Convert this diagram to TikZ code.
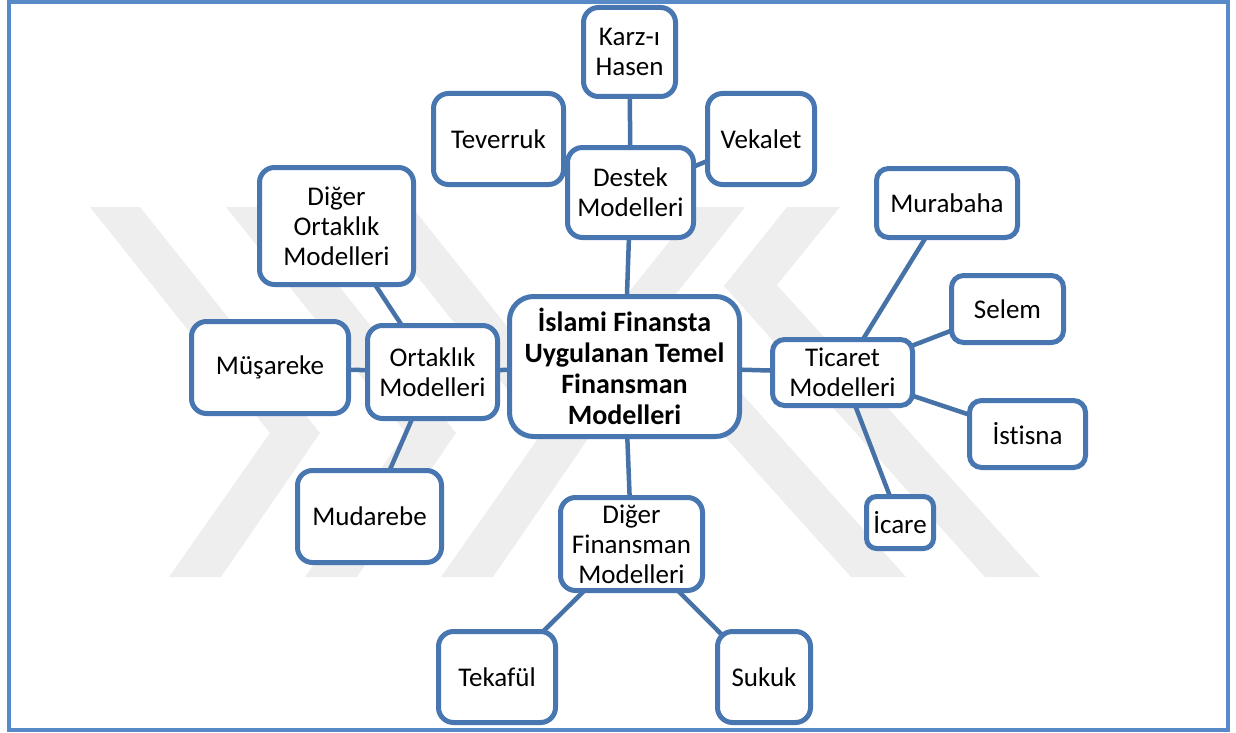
\documentclass[tikz,border=0pt]{standalone}
\usepackage{fontspec}
\setmainfont{Carlito}[Ligatures=NoCommon]
\definecolor{boxblue}{RGB}{72,118,176}
\definecolor{linkblue}{RGB}{70,114,168}
\definecolor{frameblue}{RGB}{88,138,200}
\definecolor{wmgray}{RGB}{238,238,238}
\pgfdeclarelayer{emblem}
\pgfdeclarelayer{links}
\pgfsetlayers{emblem,links,main}
\begin{document}
\begin{tikzpicture}[x=1pt,y=-1pt,
  box/.style={draw=boxblue, line width=5pt, fill=white, rounded corners=#1,
    inner sep=0pt, align=center, font=\fontsize{27}{30}\selectfont},
  box/.default=15pt,
  mainbox/.style={box=24pt, font=\bfseries\fontsize{28}{31}\selectfont},
  link/.style={draw=linkblue, line width=4.5pt},
  wm/.style={fill=wmgray, draw=none}]
% page area
\useasboundingbox (0,0) rectangle (1236,733);

% nodes
\node[mainbox, minimum width=230pt, minimum height=140pt] (main) at (624.5,366.5)
  {İslami Finansta\\Uygulanan Temel\\Finansman\\Modelleri};

\node[box, minimum width=126pt, minimum height=90pt] (destek) at (630.5,192.5) {Destek\\Modelleri};
\node[box, minimum width=92pt, minimum height=89pt] (karz) at (629.5,52) {Karz-ı\\Hasen};
\node[box, minimum width=130pt, minimum height=91pt] (tev) at (498.5,139) {Teverruk};
\node[box, minimum width=107pt, minimum height=91pt] (vek) at (761,139) {Vekalet};

\node[box, minimum width=130pt, minimum height=93pt] (ortak) at (432.5,372) {Ortaklık\\Modelleri};
\node[box, minimum width=154pt, minimum height=117pt] (digort) at (336.5,226) {Diğer\\Ortaklık\\Modelleri};
\node[box, minimum width=157pt, minimum height=92pt] (musa) at (270,367.5) {Müşareke};
\node[box, minimum width=144pt, minimum height=92pt] (muda) at (369.5,516.5) {Mudarebe};

\node[box, minimum width=142pt, minimum height=93pt] (digfin) at (631.5,544) {Diğer\\Finansman\\Modelleri};
\node[box, minimum width=117pt, minimum height=91pt] (tek) at (497,677) {Tekafül};
\node[box, minimum width=93pt, minimum height=91pt] (suk) at (764,677) {Sukuk};

\node[box=12pt, minimum width=140pt, minimum height=66pt] (tic) at (842.5,372.5) {Ticaret\\Modelleri};
\node[box=12pt, minimum width=141pt, minimum height=69pt] (mura) at (947,203) {Murabaha};
\node[box=12pt, minimum width=112pt, minimum height=67pt] (sel) at (1007.5,309) {Selem};
\node[box=12pt, minimum width=116pt, minimum height=67pt] (ist) at (1027.5,434) {İstisna};
\node[box=10pt, minimum width=67pt, minimum height=52pt] (ica) at (900,522.5) {İcare};

% connectors, drawn centre to centre behind the filled boxes
\begin{pgfonlayer}{links}
\draw[link] (main.center) -- (destek.center);
\draw[link] (main.center) -- (ortak.center);
\draw[link] (main.center) -- (digfin.center);
\draw[link] (main.center) -- (tic.center);
\draw[link] (destek.center) -- (karz.center);
\draw[link] (destek.center) -- (tev.center);
\draw[link] (destek.center) -- (vek.center);
\draw[link] (ortak.center) -- (digort.center);
\draw[link] (ortak.center) -- (musa.center);
\draw[link] (ortak.center) -- (muda.center);
\draw[link] (digfin.center) -- (tek.center);
\draw[link] (digfin.center) -- (suk.center);
\draw[link] (tic.center) -- (mura.center);
\draw[link] (tic.center) -- (sel.center);
\draw[link] (tic.center) -- (ist.center);
\draw[link] (tic.center) -- (ica.center);
\end{pgfonlayer}

% faint background emblem and outer frame
\begin{pgfonlayer}{emblem}
\fill[white] (0,0) rectangle (1236,733);
\fill[wm] (90,207) -- (140,207) -- (320,433) -- (221,577) -- (169,577) -- (270,433) -- cycle;
\fill[wm] (226,207) -- (276,207) -- (456,433) -- (357,577) -- (305,577) -- (406,433) -- cycle;
\fill[wm] (362,207) -- (412,207) -- (592,433) -- (493,577) -- (441,577) -- (542,433) -- cycle;
\fill[wm] (697,207) -- (745,207) -- (665,308) -- (906,577) -- (851,577) -- (613,312) -- cycle;
\fill[wm] (787,207) -- (840,207) -- (777,285) -- (1040,577) -- (985,577) -- (724,286) -- cycle;
\draw[frameblue, line width=4pt] (9,2) rectangle (1228,730);
\end{pgfonlayer}
\end{tikzpicture}
\end{document}
